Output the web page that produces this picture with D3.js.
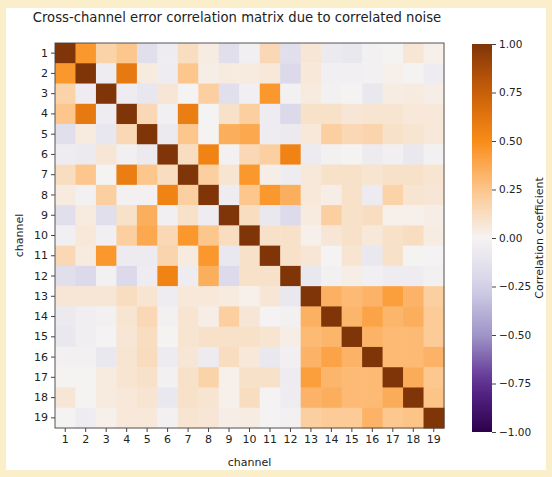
<!DOCTYPE html>
<html><head><meta charset="utf-8">
<script src="https://cdn.jsdelivr.net/npm/d3@7"></script>
<style>body{margin:0;background:#fbeecb;} text{font-family:"DejaVu Sans",sans-serif;fill:#222;}</style>
</head><body>
<svg id="chart" width="552" height="477"></svg>
<script>
const channels = d3.range(1, 20).map(String);
const colorTicks = [1.0, 0.75, 0.5, 0.25, 0.0, -0.25, -0.5, -0.75, -1.0];
const row1  = [1, 0.45, 0.18, 0.25, -0.15, -0.05, 0.12, 0.04, -0.15, -0.03, 0.15, -0.15, 0.07, -0.07, -0.08, -0.02, 0.0, 0.07, 0.02];
const row2  = [0.45, 1, -0.05, 0.6, 0.05, -0.05, 0.25, 0.03, 0.05, 0.05, 0.06, -0.2, 0.06, -0.03, -0.03, -0.02, 0.02, 0.0, -0.05];
const row3  = [0.18, -0.05, 1, -0.05, -0.1, 0.07, 0.0, 0.2, -0.15, -0.03, 0.45, -0.02, 0.05, -0.02, 0.0, -0.08, 0.04, 0.05, 0.03];
const row4  = [0.25, 0.6, -0.05, 1, 0.15, -0.03, 0.58, -0.01, 0.1, 0.2, -0.05, -0.2, 0.1, 0.1, 0.07, 0.08, 0.08, 0.06, 0.06];
const row5  = [-0.15, 0.05, -0.1, 0.15, 1, -0.07, 0.25, 0.0, 0.35, 0.38, -0.05, -0.07, 0.06, 0.2, 0.15, 0.17, 0.1, 0.08, 0.06];
const row6  = [-0.05, -0.07, 0.07, -0.03, -0.07, 1, 0.12, 0.55, -0.02, 0.15, 0.2, 0.55, -0.06, -0.02, 0.0, -0.06, -0.03, -0.08, -0.02];
const row7  = [0.12, 0.25, 0.0, 0.58, 0.25, 0.12, 1, 0.2, 0.08, 0.45, 0.03, -0.05, 0.06, 0.1, 0.1, 0.08, 0.1, 0.1, 0.08];
const row8  = [0.05, -0.02, 0.2, -0.02, -0.02, 0.55, 0.2, 1, -0.05, 0.25, 0.45, 0.35, 0.06, 0.03, 0.1, -0.06, 0.18, 0.08, 0.07];
const row9  = [-0.15, 0.05, -0.15, 0.1, 0.35, -0.03, 0.1, -0.05, 1, 0.12, -0.08, -0.18, 0.05, 0.2, 0.1, 0.12, 0.02, 0.02, 0.03];
const row10 = [-0.03, 0.06, -0.03, 0.2, 0.38, 0.15, 0.45, 0.25, 0.12, 1, 0.1, 0.1, 0.02, 0.07, 0.1, 0.06, 0.1, 0.12, 0.04];
const row11 = [0.15, 0.05, 0.45, -0.06, -0.06, 0.17, 0.05, 0.45, -0.08, 0.1, 1, 0.1, 0.07, -0.01, 0.08, -0.08, 0.1, 0.0, -0.01];
const row12 = [-0.15, -0.2, -0.02, -0.2, -0.05, 0.55, -0.05, 0.35, -0.18, 0.1, 0.1, 1, -0.08, -0.02, 0.03, -0.03, -0.05, -0.05, -0.02];
const row13 = [0.07, 0.07, 0.07, 0.12, 0.08, -0.05, 0.06, 0.06, 0.05, 0.02, 0.07, -0.08, 1, 0.34, 0.3, 0.33, 0.42, 0.33, 0.2];
const row14 = [-0.07, -0.04, -0.02, 0.08, 0.15, -0.02, 0.08, 0.03, 0.2, 0.07, -0.01, -0.02, 0.34, 1, 0.32, 0.4, 0.32, 0.35, 0.22];
const row15 = [-0.08, -0.04, -0.01, 0.07, 0.12, 0.0, 0.08, 0.1, 0.1, 0.1, 0.08, 0.03, 0.3, 0.32, 1, 0.33, 0.3, 0.3, 0.22];
const row16 = [-0.02, -0.02, -0.08, 0.08, 0.13, -0.06, 0.07, -0.06, 0.12, 0.06, -0.08, -0.03, 0.33, 0.4, 0.33, 1, 0.3, 0.3, 0.33];
const row17 = [0.0, 0.0, 0.05, 0.08, 0.1, -0.02, 0.1, 0.18, 0.02, 0.1, 0.1, -0.05, 0.42, 0.32, 0.3, 0.3, 1, 0.36, 0.24];
const row18 = [0.07, 0.0, 0.05, 0.06, 0.08, -0.08, 0.1, 0.08, 0.02, 0.12, -0.01, -0.05, 0.33, 0.35, 0.3, 0.3, 0.36, 1, 0.26];
const row19 = [0.0, -0.05, 0.02, 0.06, 0.06, -0.02, 0.08, 0.07, 0.03, 0.04, -0.01, -0.02, 0.2, 0.22, 0.22, 0.33, 0.24, 0.26, 1];
const corr = [row1,row2,row3,row4,row5,row6,row7,row8,row9,row10,row11,row12,row13,row14,row15,row16,row17,row18,row19];

const svg = d3.select("#chart");
svg.append("rect").attr("x",6).attr("y",8).attr("width",540).attr("height",462).attr("fill","#ffffff");

const L = 55, R = 444, T = 43, B = 428;
const x = d3.scaleBand().domain(channels).range([L, R]);
const y = d3.scaleBand().domain(channels).range([T, B]);
const color = d3.scaleLinear()
  .domain([-1, -0.75, -0.5, -0.25, 0, 0.25, 0.5, 0.75, 1])
  .range(["#2d004b", "#5d2c91", "#9f95c8", "#d4d2e8", "#f5f3f2", "#fdc68c", "#f98c17", "#ca5f08", "#7f3508"]);

const cells = [];
corr.forEach((r, i) => r.forEach((v, j) => cells.push({row: channels[i], col: channels[j], v})));
svg.append("g").selectAll("rect").data(cells).join("rect")
  .attr("x", d => x(d.col)).attr("y", d => y(d.row))
  .attr("width", x.bandwidth() + 0.5).attr("height", y.bandwidth() + 0.5)
  .attr("fill", d => color(d.v));
svg.append("rect").attr("x", L).attr("y", T).attr("width", R - L).attr("height", B - T)
  .attr("fill", "none").attr("stroke", "#444").attr("stroke-width", 0.9);

const xa = svg.append("g").attr("transform", `translate(0,${B})`).call(d3.axisBottom(x).tickSize(4).tickPadding(3));
const ya = svg.append("g").attr("transform", `translate(${L},0)`).call(d3.axisLeft(y).tickSize(4).tickPadding(3));
[xa, ya].forEach(a => { a.select(".domain").remove(); a.selectAll("text").attr("font-size", 11).attr("fill","#222"); a.selectAll("line").attr("stroke","#444"); });

svg.append("text").attr("x", 249.5).attr("y", 466).attr("text-anchor", "middle").attr("font-size", 11).text("channel");
svg.append("text").attr("transform", "translate(23,235.5) rotate(-90)").attr("text-anchor", "middle").attr("font-size", 11).text("channel");
svg.append("text").attr("x", 237).attr("y", 22).attr("text-anchor", "middle").attr("font-size", 13.2).text("Cross-channel error correlation matrix due to correlated noise");

// colorbar
const cbL = 472, cbW = 20, cbT = 44, cbB = 432;
const cy = d3.scaleLinear().domain([1, -1]).range([cbT, cbB]);
const defs = svg.append("defs");
const grad = defs.append("linearGradient").attr("id", "cb").attr("x1", 0).attr("y1", 0).attr("x2", 0).attr("y2", 1);
d3.range(0, 1.0001, 0.05).forEach(t => grad.append("stop").attr("offset", t).attr("stop-color", color(1 - 2 * t)));
svg.append("rect").attr("x", cbL).attr("y", cbT).attr("width", cbW).attr("height", cbB - cbT).attr("fill", "url(#cb)");
const ca = svg.append("g").attr("transform", `translate(${cbL + cbW},0)`)
  .call(d3.axisRight(cy).tickValues(colorTicks).tickFormat(d => d3.format(".2f")(d).replace("-", "\u2212")).tickSize(4).tickPadding(3));
ca.select(".domain").remove();
ca.selectAll("text").attr("font-size", 10.5).attr("fill","#222");
ca.selectAll("line").attr("stroke","#444");
svg.append("text").attr("transform", `translate(543,${(cbT + cbB) / 2}) rotate(-90)`).attr("text-anchor", "middle").attr("font-size", 11).text("Correlation coefficient");
</script>
</body></html>
